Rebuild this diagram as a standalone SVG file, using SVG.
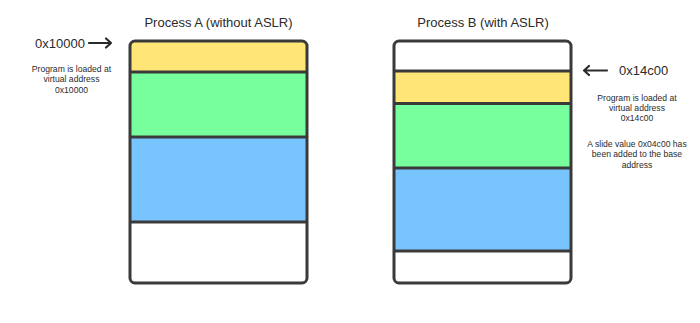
<svg xmlns="http://www.w3.org/2000/svg" width="700" height="323" viewBox="0 0 700 323">
<style>
.t{font-family:"Liberation Sans",Arial,sans-serif;fill:#2b2b2b}
.title{font-size:13px;text-anchor:middle}
.addr{font-size:13px}
.cap{font-size:8.6px;text-anchor:middle}
.out{fill:none;stroke:#3a3a3a;stroke-width:3}
.div{stroke:#3a3a3a;stroke-width:3}
.y{fill:#FFE677}
.g{fill:#78FF9D}
.b{fill:#78C4FF}
.w{fill:#ffffff}
.arr{fill:none;stroke:#2b2b2b;stroke-width:2.2;stroke-linecap:round;stroke-linejoin:round}
</style>
<defs>
<clipPath id="ca"><rect x="130" y="41" width="177" height="242" rx="5"/></clipPath>
<clipPath id="cb"><rect x="394" y="41" width="177" height="242" rx="5"/></clipPath>
</defs>
<rect width="700" height="323" fill="#ffffff"/>
<g id="processA">
<text class="t title" x="218.5" y="26.5">Process A (without ASLR)</text>
<g clip-path="url(#ca)">
<rect class="y" x="130" y="41" width="177" height="31"/>
<rect class="g" x="130" y="72" width="177" height="65"/>
<rect class="b" x="130" y="137" width="177" height="85"/>
<rect class="w" x="130" y="222" width="177" height="61"/>
</g>
<line class="div" x1="130" y1="72" x2="307" y2="72"/>
<line class="div" x1="130" y1="137" x2="307" y2="137"/>
<line class="div" x1="130" y1="222" x2="307" y2="222"/>
<rect class="out" x="130" y="41" width="177" height="242" rx="5"/>
</g>
<g id="processB">
<text class="t title" x="483" y="26.5">Process B (with ASLR)</text>
<g clip-path="url(#cb)">
<rect class="w" x="394" y="41" width="177" height="30"/>
<rect class="y" x="394" y="71" width="177" height="32"/>
<rect class="g" x="394" y="103" width="177" height="65"/>
<rect class="b" x="394" y="168" width="177" height="83"/>
<rect class="w" x="394" y="251" width="177" height="32"/>
</g>
<line class="div" x1="394" y1="71" x2="571" y2="71"/>
<line class="div" x1="394" y1="103.5" x2="571" y2="103.5"/>
<line class="div" x1="394" y1="168" x2="571" y2="168"/>
<line class="div" x1="394" y1="251" x2="571" y2="251"/>
<rect class="out" x="394" y="41" width="177" height="242" rx="5"/>
</g>
<g id="labelA">
<text class="t addr" x="35" y="47.5">0x10000</text>
<text class="t cap" x="71.5" y="72">Program is loaded at</text>
<text class="t cap" x="71.5" y="82.3">virtual address</text>
<text class="t cap" x="71.5" y="92.6">0x10000</text>
</g>
<g id="labelB">
<text class="t addr" x="619" y="75.3">0x14c00</text>
<text class="t cap" x="637" y="100.5">Program is loaded at</text>
<text class="t cap" x="637" y="110.8">virtual address</text>
<text class="t cap" x="637" y="121.1">0x14c00</text>
<text class="t cap" x="637" y="147">A slide value 0x04c00 has</text>
<text class="t cap" x="637" y="157.3">been added to the base</text>
<text class="t cap" x="637" y="167.6">address</text>
</g>
<g id="connectors">
<path class="arr" d="M89 43 H111 M106 38.5 L111 43 L106 47.5"/>
<path class="arr" d="M607 70.5 H584 M589 66 L584 70.5 L589 75"/>
</g>
</svg>
